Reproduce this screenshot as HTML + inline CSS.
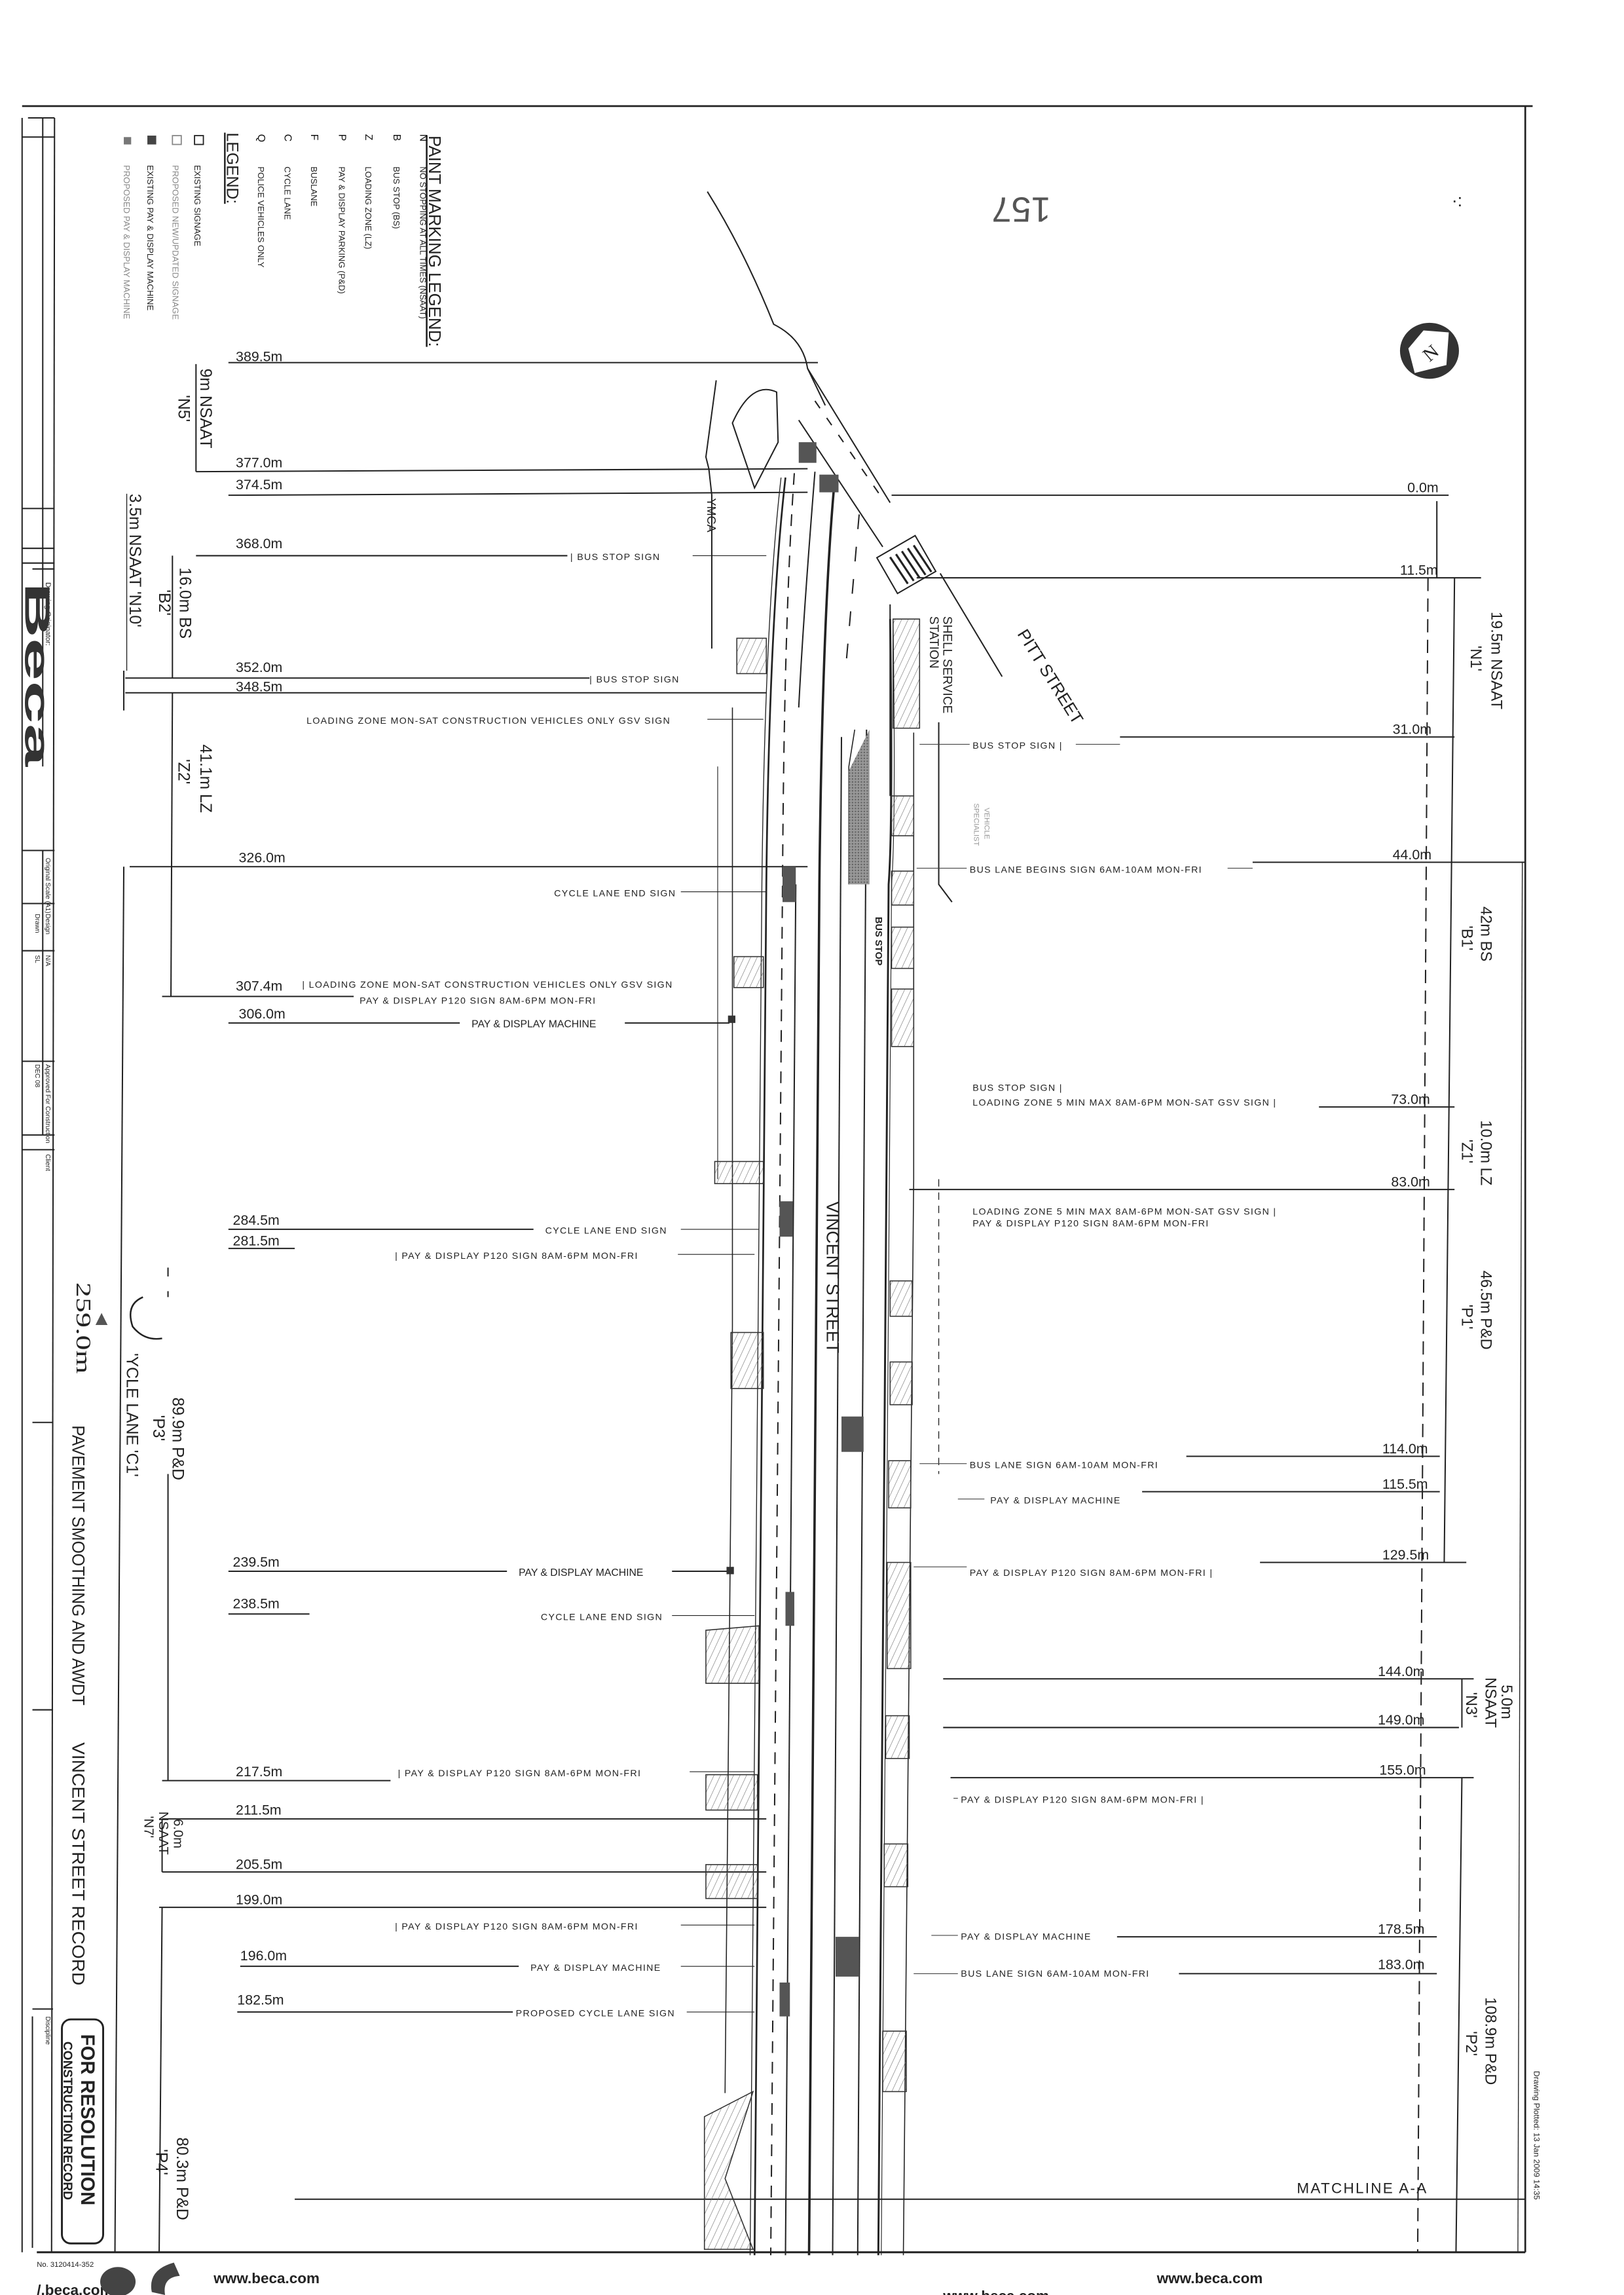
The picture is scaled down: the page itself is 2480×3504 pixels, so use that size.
<!DOCTYPE html>
<html><head><meta charset="utf-8"><style>
html,body{margin:0;padding:0;background:#fff;}
svg{display:block;}
text{font-family:"Liberation Sans",sans-serif;fill:#222;}
.d{font-size:9.5px;fill:#222;}
.s{font-size:6.3px;fill:#666;letter-spacing:0.6px;}
.sd{font-size:7px;fill:#111;}
</style></head><body>
<svg width="2480" height="3504" viewBox="0 0 1102 1557" preserveAspectRatio="none" xmlns="http://www.w3.org/2000/svg">
<defs>
<pattern id="h" width="4" height="4" patternUnits="userSpaceOnUse" patternTransform="rotate(25)">
<line x1="0" y1="0" x2="0" y2="4" stroke="#666" stroke-width="0.5"/></pattern>
<pattern id="g" width="2" height="2" patternUnits="userSpaceOnUse">
<rect width="2" height="2" fill="#999"/><rect width="1" height="1" fill="#666"/></pattern>
</defs>
<rect width="1102" height="1557" fill="#fff"/>
<g stroke="#222" fill="none" stroke-width="0.9">
<line x1="15" y1="72" x2="1040" y2="72" stroke-width="1.2"/>
<line x1="1035" y1="72" x2="1035" y2="1528" stroke-width="1.2"/>
<line x1="1033" y1="585" x2="1030" y2="1528" stroke-width="0.6"/>
<line x1="25" y1="1528" x2="1035" y2="1528" stroke-width="1.3"/>
<line x1="15" y1="80" x2="15" y2="1528"/>
<line x1="29" y1="80" x2="29" y2="520"/>
<line x1="37" y1="80" x2="35" y2="1528"/>
<line x1="19" y1="80" x2="37" y2="80"/>
<line x1="15" y1="93" x2="37" y2="93"/>
<line x1="15" y1="345" x2="37" y2="345"/>
<line x1="15" y1="372" x2="37" y2="372"/>
<line x1="15" y1="382" x2="37" y2="382"/>
<line x1="22" y1="386" x2="37" y2="386"/>
<line x1="15" y1="577" x2="37" y2="577"/>
<line x1="15" y1="613" x2="37" y2="613"/>
<line x1="15" y1="645" x2="37" y2="645"/>
<line x1="15" y1="720" x2="37" y2="720"/>
<line x1="15" y1="770" x2="37" y2="770"/>
<line x1="15" y1="780" x2="37" y2="780"/>
<line x1="29" y1="577" x2="29" y2="770"/>
<line x1="22" y1="965" x2="36" y2="965"/>
<line x1="22" y1="1160" x2="36" y2="1160"/>
<line x1="22" y1="1363" x2="36" y2="1363"/>
<line x1="22" y1="1368" x2="22" y2="1525"/>
<rect x="42" y="1370" width="28" height="152" rx="6" stroke-width="1.3"/>
<line x1="84" y1="455" x2="84" y2="482"/>
<line x1="84" y1="588" x2="78" y2="1528"/>
<line x1="117" y1="377" x2="117" y2="460"/>
<line x1="117" y1="470" x2="116" y2="676"/>
<line x1="133" y1="247" x2="133" y2="320"/>
<line x1="114" y1="1000" x2="114" y2="1208"/>
<line x1="114" y1="860" x2="114" y2="880" stroke-dasharray="6 10"/>
<line x1="110" y1="1234" x2="110" y2="1270"/>
<line x1="110" y1="1294" x2="108" y2="1528"/>
<line x1="86" y1="335" x2="86" y2="455" stroke-width="0.6"/>
<path d="M97 880 Q85 885 90 900 Q98 910 110 908" stroke-width="1.1"/>
<line x1="155" y1="246" x2="555" y2="246"/>
<line x1="133" y1="320" x2="548" y2="318"/>
<line x1="155" y1="336" x2="548" y2="334"/>
<line x1="133" y1="377" x2="385" y2="377"/>
<line x1="470" y1="377" x2="520" y2="377" stroke-width="0.5"/>
<line x1="85" y1="460" x2="400" y2="460"/>
<line x1="85" y1="470" x2="520" y2="470"/>
<line x1="480" y1="488" x2="518" y2="488" stroke-width="0.5"/>
<line x1="88" y1="588" x2="548" y2="588"/>
<line x1="462" y1="605" x2="520" y2="605" stroke-width="0.5"/>
<line x1="110" y1="676" x2="240" y2="676"/>
<line x1="155" y1="694" x2="312" y2="694"/>
<line x1="424" y1="694" x2="495" y2="694"/>
<line x1="155" y1="834" x2="362" y2="834"/>
<line x1="462" y1="834" x2="515" y2="834" stroke-width="0.5"/>
<line x1="155" y1="847" x2="200" y2="847"/>
<line x1="460" y1="851" x2="512" y2="851" stroke-width="0.5"/>
<line x1="155" y1="1066" x2="344" y2="1066"/>
<line x1="456" y1="1066" x2="495" y2="1066"/>
<line x1="155" y1="1095" x2="210" y2="1095"/>
<line x1="456" y1="1096" x2="512" y2="1096" stroke-width="0.5"/>
<line x1="110" y1="1208" x2="265" y2="1208"/>
<line x1="468" y1="1202" x2="512" y2="1202" stroke-width="0.5"/>
<line x1="110" y1="1234" x2="520" y2="1234"/>
<line x1="110" y1="1270" x2="520" y2="1270"/>
<line x1="108" y1="1294" x2="520" y2="1294"/>
<line x1="462" y1="1306" x2="512" y2="1306" stroke-width="0.5"/>
<line x1="163" y1="1334" x2="352" y2="1334"/>
<line x1="462" y1="1334" x2="512" y2="1334" stroke-width="0.5"/>
<line x1="161" y1="1365" x2="348" y2="1365"/>
<line x1="466" y1="1365" x2="512" y2="1365" stroke-width="0.5"/>
<line x1="200" y1="1492" x2="1035" y2="1492"/>
<line x1="605" y1="336" x2="983" y2="336"/>
<line x1="622" y1="392" x2="1005" y2="392"/>
<line x1="760" y1="500" x2="987" y2="500"/>
<line x1="850" y1="585" x2="1035" y2="585"/>
<line x1="895" y1="751" x2="987" y2="751"/>
<line x1="617" y1="807" x2="987" y2="807"/>
<line x1="805" y1="988" x2="977" y2="988"/>
<line x1="775" y1="1012" x2="977" y2="1012"/>
<line x1="855" y1="1060" x2="995" y2="1060"/>
<line x1="640" y1="1139" x2="1000" y2="1139"/>
<line x1="640" y1="1172" x2="990" y2="1172"/>
<line x1="645" y1="1206" x2="1000" y2="1206"/>
<line x1="758" y1="1314" x2="975" y2="1314"/>
<line x1="800" y1="1339" x2="975" y2="1339"/>
<line x1="975" y1="340" x2="975" y2="392"/>
<line x1="969" y1="392" x2="962" y2="1528" stroke-dasharray="9 5"/>
<line x1="987" y1="392" x2="980" y2="1060"/>
<line x1="992" y1="1139" x2="992" y2="1172"/>
<line x1="992" y1="1206" x2="988" y2="1528"/>
<path d="M480 130 Q505 170 525 220 Q545 230 548 250 L560 275"/>
<path d="M548 250 L604 341"/>
<path d="M542 285 L599 371"/>
<path d="M553 272 L600 340" stroke-dasharray="6 8"/>
<path d="M497 287 Q510 258 527 266 L528 300 L512 331 Z"/>
<path d="M486 258 L479 310 L481 318 L483 336 L483 440"/>
<rect x="600" y="369" width="30" height="28" fill="none" transform="rotate(-30 615 383)"/>
<g stroke-width="1.4">
<line x1="604" y1="378" x2="616" y2="396"/><line x1="608" y1="376" x2="620" y2="394"/>
<line x1="612" y1="374" x2="624" y2="392"/><line x1="616" y1="372" x2="628" y2="390"/>
<line x1="620" y1="370" x2="632" y2="388"/></g>
<path d="M638 389 L680 459"/>
<path d="M604 410 L604 540"/>
<path d="M637 490 L637 600 L646 612"/>
<path d="M583 349 L574 452" stroke-dasharray="10 12"/>
<path d="M533 324 Q522 420 520 600 L512 1530" stroke-width="1.2"/>
<path d="M530 324 Q519 420 517 600 L509 1530" stroke-width="0.6"/>
<path d="M539 321 Q532 420 531 600 L523 1530" stroke-dasharray="8 6"/>
<path d="M540 600 L533 1530"/>
<path d="M553 320 Q545 420 542 480"/>
<path d="M566 330 Q558 420 556 600 L549 1530" stroke-width="1.6"/>
<path d="M571 500 L565 1530"/>
<path d="M588 495 L582 1530"/>
<path d="M604 420 Q606 560 603 600 L596 1530" stroke-width="1.3"/>
<path d="M606 420 Q608 560 605 600 L598 1530" stroke-width="0.5"/>
<path d="M620 497 L620 800 L613 1530" stroke-width="0.7"/>
<path d="M637 800 L637 1000" stroke-dasharray="5 4" stroke-width="0.6"/>
<path d="M497 480 L497 900 L492 1420" stroke-width="0.7"/>
<path d="M487 520 L487 800" stroke-width="0.5"/>
<path d="M580 495 L576 520 L576 600" stroke-width="0.7"/>
</g>
<g fill="#555">
<rect x="542" y="300" width="12" height="14"/>
<rect x="556" y="322" width="13" height="12"/>
<rect x="531" y="588" width="9" height="24"/>
<rect x="529" y="815" width="9" height="24"/>
<rect x="533" y="1080" width="6" height="23"/>
<rect x="529" y="1345" width="7" height="23"/>
<rect x="571" y="961" width="15" height="24"/>
<rect x="567" y="1314" width="16" height="27"/>
</g>
<path d="M576 523 L590 495 L590 600 L576 600 Z" fill="url(#g)"/>
<g fill="url(#h)" stroke="#333" stroke-width="0.7">
<rect x="500" y="433" width="20" height="24"/>
<rect x="498" y="649" width="20" height="21"/>
<rect x="485" y="788" width="33" height="15"/>
<rect x="496" y="904" width="22" height="38"/>
<path d="M479 1106 L515 1103 L515 1142 L479 1142 Z"/>
<rect x="479" y="1204" width="35" height="24"/>
<rect x="479" y="1265" width="35" height="23"/>
<path d="M511 1419 L478 1436 L478 1526 L511 1526 L492 1478 Z"/>
<path d="M606 420 L624 420 L624 494 L606 494 Z"/>
<rect x="605" y="540" width="15" height="27"/>
<rect x="605" y="591" width="15" height="23"/>
<rect x="605" y="629" width="15" height="28"/>
<rect x="605" y="671" width="15" height="39"/>
<rect x="604" y="869" width="15" height="24"/>
<rect x="604" y="924" width="15" height="29"/>
<rect x="603" y="991" width="15" height="32"/>
<rect x="602" y="1060" width="16" height="72"/>
<rect x="601" y="1164" width="16" height="29"/>
<rect x="600" y="1251" width="16" height="29"/>
<rect x="599" y="1378" width="16" height="41"/>
</g>
<ellipse cx="970" cy="238" rx="20" ry="19" fill="#333"/>
<path d="M958 230 L972 220 L985 238 L972 256 L958 246 Z" fill="#fff" transform="rotate(40 970 238)"/>
<text x="965" y="244" style="font-size:13px;font-family:'Liberation Serif',serif" transform="rotate(-40 970 238)">N</text>
<text transform="translate(713,134) rotate(180)" style="font-size:24px;fill:#555">157</text>
<text x="985" y="140" style="font-size:12px">·:</text>
<g>
<text transform="translate(291,92) rotate(90)" style="font-size:11.5px" text-decoration="underline">PAINT MARKING LEGEND:</text>
<text transform="translate(285,91) rotate(90)" class="sd">N</text><text transform="translate(285,113) rotate(90)" style="font-size:5.8px">NO STOPPING AT ALL TIMES (NSAAT)</text>
<text transform="translate(267,91) rotate(90)" class="sd">B</text><text transform="translate(267,113) rotate(90)" style="font-size:5.8px">BUS STOP (BS)</text>
<text transform="translate(248,91) rotate(90)" class="sd">Z</text><text transform="translate(248,113) rotate(90)" style="font-size:5.8px">LOADING ZONE (LZ)</text>
<text transform="translate(230,91) rotate(90)" class="sd">P</text><text transform="translate(230,113) rotate(90)" style="font-size:5.8px">PAY &amp; DISPLAY PARKING (P&amp;D)</text>
<text transform="translate(211,91) rotate(90)" class="sd">F</text><text transform="translate(211,113) rotate(90)" style="font-size:5.8px">BUSLANE</text>
<text transform="translate(193,91) rotate(90)" class="sd">C</text><text transform="translate(193,113) rotate(90)" style="font-size:5.8px">CYCLE LANE</text>
<text transform="translate(175,91) rotate(90)" class="sd">Q</text><text transform="translate(175,113) rotate(90)" style="font-size:5.8px">POLICE VEHICLES ONLY</text>
<text transform="translate(154,90) rotate(90)" style="font-size:11px" text-decoration="underline">LEGEND:</text>
<rect x="132" y="92" width="6" height="6" fill="none" stroke="#222" stroke-width="0.8"/>
<text transform="translate(132,112) rotate(90)" style="font-size:5.8px">EXISTING SIGNAGE</text>
<rect x="117" y="92" width="6" height="6" fill="none" stroke="#888" stroke-width="0.8"/>
<text transform="translate(117,112) rotate(90)" style="font-size:5.8px;fill:#888">PROPOSED NEW/UPDATED SIGNAGE</text>
<rect x="100" y="92" width="6" height="6" fill="#444"/>
<text transform="translate(100,112) rotate(90)" style="font-size:5.8px">EXISTING PAY &amp; DISPLAY MACHINE</text>
<rect x="84" y="93" width="5" height="5" fill="#777"/>
<text transform="translate(84,112) rotate(90)" style="font-size:5.8px;fill:#888">PROPOSED PAY &amp; DISPLAY MACHINE</text>
</g>
<g class="d">
<text x="160" y="245">389.5m</text>
<text x="160" y="317">377.0m</text>
<text x="160" y="332">374.5m</text>
<text x="160" y="372">368.0m</text>
<text x="160" y="456">352.0m</text>
<text x="160" y="469">348.5m</text>
<text x="162" y="585">326.0m</text>
<text x="160" y="672">307.4m</text>
<text x="162" y="691">306.0m</text>
<text x="158" y="831">284.5m</text>
<text x="158" y="845">281.5m</text>
<text x="158" y="1063">239.5m</text>
<text x="158" y="1091">238.5m</text>
<text x="160" y="1205">217.5m</text>
<text x="160" y="1231">211.5m</text>
<text x="160" y="1268">205.5m</text>
<text x="160" y="1292">199.0m</text>
<text x="163" y="1330">196.0m</text>
<text x="161" y="1360">182.5m</text>
</g>
<g class="d" style="font-size:11px">
<text transform="translate(136,250) rotate(90)">9m NSAAT</text>
<text transform="translate(121,268) rotate(90)">'N5'</text>
<text transform="translate(122,385) rotate(90)">16.0m BS</text>
<text transform="translate(108,400) rotate(90)">'B2'</text>
<text transform="translate(88,335) rotate(90)">3.5m NSAAT 'N10'</text>
<text transform="translate(136,505) rotate(90)">41.1m LZ</text>
<text transform="translate(121,515) rotate(90)">'Z2'</text>
<text transform="translate(117,948) rotate(90)">89.9m P&amp;D</text>
<text transform="translate(104,960) rotate(90)">'P3'</text>
<text transform="translate(86,918) rotate(90)">'YCLE LANE 'C1'</text>
<text transform="translate(118,1234) rotate(90)" style="font-size:9px">6.0m</text>
<text transform="translate(108,1229) rotate(90)" style="font-size:9px">NSAAT</text>
<text transform="translate(98,1232) rotate(90)" style="font-size:9px">'N7'</text>
<text transform="translate(120,1450) rotate(90)">80.3m P&amp;D</text>
<text transform="translate(106,1458) rotate(90)">'P4'</text>
<text transform="translate(52,870) rotate(90)" style="font-size:14px;font-family:'Liberation Serif',serif" textLength="62" lengthAdjust="spacingAndGlyphs">259.0m</text>
<text transform="translate(49,967) rotate(90)" style="font-size:12px" textLength="190" lengthAdjust="spacingAndGlyphs">PAVEMENT SMOOTHING AND AWDT</text>
<text transform="translate(49,1182) rotate(90)" style="font-size:12px" textLength="165" lengthAdjust="spacingAndGlyphs">VINCENT STREET RECORD</text>
</g>
<g class="s">
<text x="387" y="380">| BUS STOP SIGN</text>
<text x="400" y="463">| BUS STOP SIGN</text>
<text x="208" y="491">LOADING ZONE MON-SAT CONSTRUCTION VEHICLES ONLY GSV SIGN</text>
<text x="376" y="608">CYCLE LANE END SIGN</text>
<text x="205" y="670">| LOADING ZONE MON-SAT CONSTRUCTION VEHICLES ONLY GSV SIGN</text>
<text x="244" y="681">PAY &amp; DISPLAY P120 SIGN 8AM-6PM MON-FRI</text>
<text x="370" y="837">CYCLE LANE END SIGN</text>
<text x="268" y="854">| PAY &amp; DISPLAY P120 SIGN 8AM-6PM MON-FRI</text>
<text x="367" y="1099">CYCLE LANE END SIGN</text>
<text x="270" y="1205">| PAY &amp; DISPLAY P120 SIGN 8AM-6PM MON-FRI</text>
<text x="268" y="1309">| PAY &amp; DISPLAY P120 SIGN 8AM-6PM MON-FRI</text>
<text x="360" y="1337">PAY &amp; DISPLAY MACHINE</text>
<text x="350" y="1368">PROPOSED CYCLE LANE SIGN</text>
</g>
<g style="font-size:7px;fill:#111">
<text x="320" y="697">PAY &amp; DISPLAY MACHINE</text>
<text x="352" y="1069">PAY &amp; DISPLAY MACHINE</text>
</g>
<rect x="494" y="689" width="5" height="5" fill="#333"/>
<rect x="493" y="1063" width="5" height="5" fill="#333"/>
<g class="s">
<text x="660" y="508">BUS STOP SIGN |</text>
<text x="658" y="592">BUS LANE BEGINS SIGN 6AM-10AM MON-FRI</text>
<text x="660" y="740">BUS STOP SIGN |</text>
<text x="660" y="750">LOADING ZONE 5 MIN MAX 8AM-6PM MON-SAT GSV SIGN |</text>
<text x="660" y="824">LOADING ZONE 5 MIN MAX 8AM-6PM MON-SAT GSV SIGN |</text>
<text x="660" y="832">PAY &amp; DISPLAY P120 SIGN 8AM-6PM MON-FRI</text>
<text x="658" y="996">BUS LANE SIGN 6AM-10AM MON-FRI</text>
<text x="672" y="1020">PAY &amp; DISPLAY MACHINE</text>
<text x="658" y="1069">PAY &amp; DISPLAY P120 SIGN 8AM-6PM MON-FRI |</text>
<text x="652" y="1223">PAY &amp; DISPLAY P120 SIGN 8AM-6PM MON-FRI |</text>
<text x="652" y="1316">PAY &amp; DISPLAY MACHINE</text>
<text x="652" y="1341">BUS LANE SIGN 6AM-10AM MON-FRI</text>
</g>
<g stroke="#444" stroke-width="0.5">
<line x1="730" y1="505" x2="760" y2="505"/><line x1="833" y1="589" x2="850" y2="589"/>
<line x1="624" y1="505" x2="658" y2="505"/><line x1="622" y1="589" x2="656" y2="589"/>
<line x1="624" y1="993" x2="656" y2="993"/><line x1="620" y1="1063" x2="656" y2="1063"/>
<line x1="620" y1="1339" x2="650" y2="1339"/><line x1="632" y1="1313" x2="650" y2="1313"/>
<line x1="647" y1="1220" x2="650" y2="1220"/><line x1="650" y1="1017" x2="668" y2="1017"/>
</g>
<g class="d">
<text x="955" y="334">0.0m</text>
<text x="950" y="390">11.5m</text>
<text x="945" y="498">31.0m</text>
<text x="945" y="583">44.0m</text>
<text x="944" y="749">73.0m</text>
<text x="944" y="805">83.0m</text>
<text x="938" y="986">114.0m</text>
<text x="938" y="1010">115.5m</text>
<text x="938" y="1058">129.5m</text>
<text x="935" y="1137">144.0m</text>
<text x="935" y="1170">149.0m</text>
<text x="936" y="1204">155.0m</text>
<text x="935" y="1312">178.5m</text>
<text x="935" y="1336">183.0m</text>
<text x="880" y="1488" style="font-size:10px;letter-spacing:1px">MATCHLINE A-A</text>
</g>
<g class="d" style="font-size:10.5px">
<text transform="translate(1012,415) rotate(90)">19.5m NSAAT</text>
<text transform="translate(998,438) rotate(90)">'N1'</text>
<text transform="translate(1005,615) rotate(90)">42m BS</text>
<text transform="translate(992,628) rotate(90)">'B1'</text>
<text transform="translate(1005,760) rotate(90)">10.0m LZ</text>
<text transform="translate(992,773) rotate(90)">'Z1'</text>
<text transform="translate(1005,862) rotate(90)">46.5m P&amp;D</text>
<text transform="translate(992,885) rotate(90)">'P1'</text>
<text transform="translate(1019,1143) rotate(90)">5.0m</text>
<text transform="translate(1008,1138) rotate(90)">NSAAT</text>
<text transform="translate(995,1148) rotate(90)">'N3'</text>
<text transform="translate(1008,1355) rotate(90)">108.9m P&amp;D</text>
<text transform="translate(995,1378) rotate(90)">'P2'</text>
<text transform="translate(1041,1405) rotate(90)" style="font-size:5.5px">Drawing Plotted: 13 Jan 2009 14:35</text>
</g>
<text transform="translate(561,815) rotate(90)" style="font-size:12px">VINCENT STREET</text>
<text transform="translate(594,622) rotate(90)" style="font-size:6.5px;font-weight:bold">BUS STOP</text>
<text transform="translate(480,338) rotate(90)" style="font-size:8px">YMCA</text>
<text transform="translate(640,418) rotate(90)" style="font-size:8.5px">SHELL SERVICE</text>
<text transform="translate(631,418) rotate(90)" style="font-size:8.5px">STATION</text>
<text transform="translate(690,430) rotate(58)" style="font-size:11.5px">PITT STREET</text>
<text transform="translate(668,548) rotate(90)" style="font-size:5px;fill:#999">VEHICLE</text>
<text transform="translate(661,545) rotate(90)" style="font-size:5px;fill:#999">SPECIALIST</text>
<text transform="translate(31,395) rotate(90)" style="font-size:5px">Drawing Originator:</text>
<text transform="translate(17,395) rotate(90)" style="font-size:24px;font-weight:bold;fill:#333" textLength="125" lengthAdjust="spacingAndGlyphs">Beca</text>
<text transform="translate(31,582) rotate(90)" style="font-size:4.5px">Original Scale (A1)</text>
<text transform="translate(31,620) rotate(90)" style="font-size:4.5px">Design</text>
<text transform="translate(24,620) rotate(90)" style="font-size:4.5px">Drawn</text>
<text transform="translate(31,648) rotate(90)" style="font-size:4.5px">N/A</text>
<text transform="translate(24,648) rotate(90)" style="font-size:4.5px">SL</text>
<text transform="translate(24,722) rotate(90)" style="font-size:4.5px">DEC 08</text>
<text transform="translate(31,722) rotate(90)" style="font-size:4.5px">Approved For Construction</text>
<text transform="translate(31,783) rotate(90)" style="font-size:4.5px">Client</text>
<text transform="translate(31,1368) rotate(90)" style="font-size:4.5px">Discipline</text>
<text transform="translate(55,1380) rotate(90)" style="font-size:13px;font-weight:bold">FOR RESOLUTION</text>
<text transform="translate(43,1385) rotate(90)" style="font-size:8.5px;font-weight:bold">CONSTRUCTION RECORD</text>
<text x="62" y="899" style="font-size:14px;font-weight:bold;fill:#555">▲</text>
<text x="145" y="1549" style="font-size:10px;font-weight:bold">www.beca.com</text>
<text x="640" y="1561" style="font-size:10px;font-weight:bold">www.beca.com</text>
<text x="785" y="1549" style="font-size:10px;font-weight:bold">www.beca.com</text>
<text x="25" y="1538" style="font-size:5px">No. 3120414-352</text>
<text x="25" y="1557" style="font-size:10px;font-weight:bold">/.beca.com</text>
<ellipse cx="80" cy="1548" rx="12" ry="10" fill="#444"/>
<path d="M118 1535 Q100 1540 103 1555 L112 1557 Q110 1545 122 1544 Z" fill="#444"/>
</svg>
</body></html>
